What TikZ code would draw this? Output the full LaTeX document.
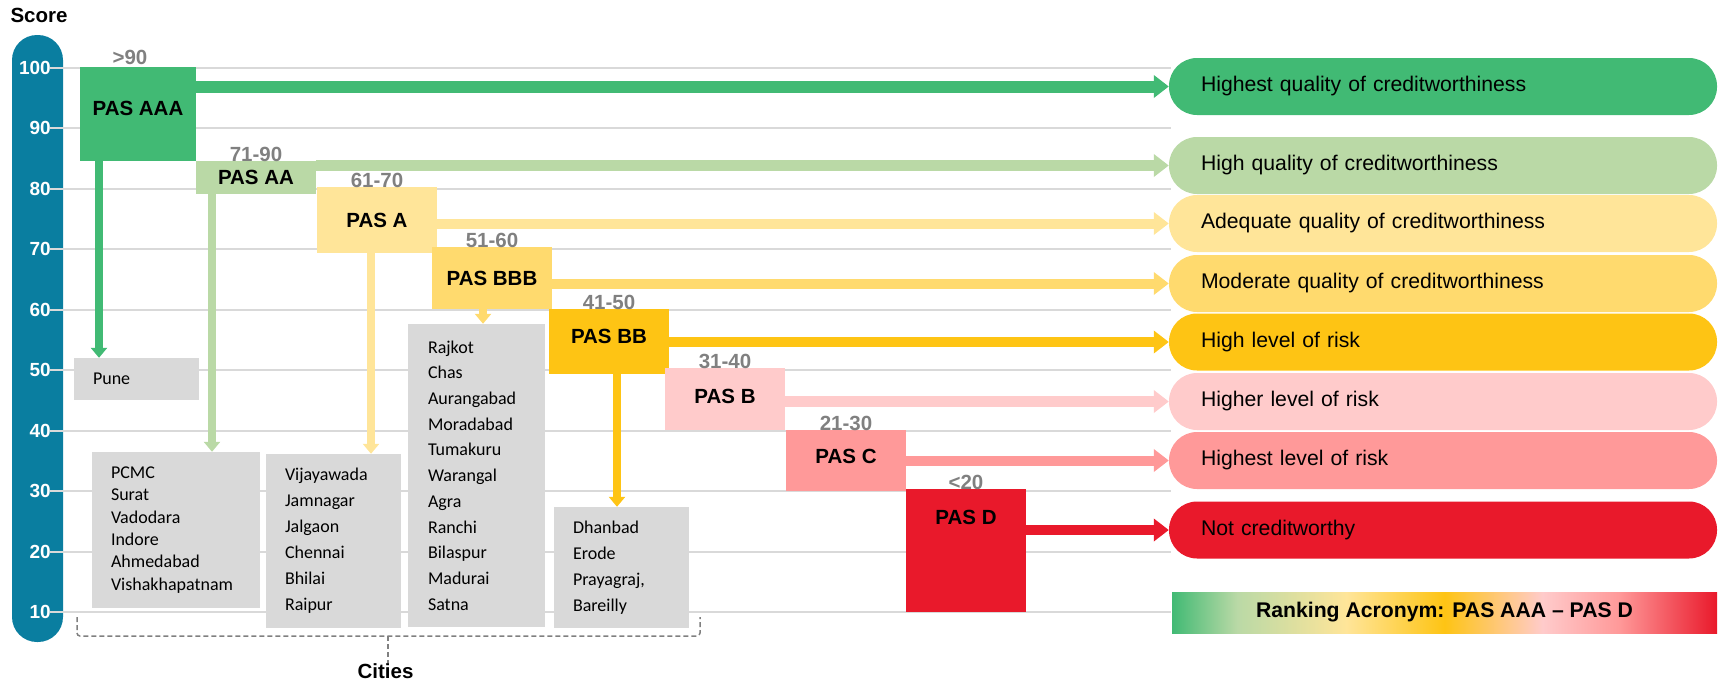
\documentclass[tikz,border=0pt]{standalone}
\usepackage{fontspec}
\setmainfont{Liberation Sans}
\newfontfamily\cityfont{Carlito}
\usetikzlibrary{positioning,arrows.meta}
\definecolor{axisblue}{RGB}{10,126,160}
\definecolor{pasAAA}{RGB}{65,186,116}
\definecolor{pasAA}{RGB}{186,217,166}
\definecolor{pasA}{RGB}{255,229,153}
\definecolor{pasBBB}{RGB}{255,218,110}
\definecolor{pasBB}{RGB}{254,196,20}
\definecolor{pasB}{RGB}{255,203,203}
\definecolor{pasC}{RGB}{255,153,153}
\definecolor{pasD}{RGB}{233,25,43}
\definecolor{citygray}{RGB}{217,217,217}
\definecolor{gridgray}{RGB}{217,217,217}
\definecolor{rangegray}{RGB}{128,128,128}
\pgfdeclarehorizontalshading{rankbar}{100bp}{color(0bp)=(pasAAA); color(25bp)=(pasAAA); color(31bp)=(pasAA); color(41bp)=(pasA); color(50bp)=(pasBB); color(59bp)=(pasB); color(66bp)=(pasC); color(75bp)=(pasD); color(100bp)=(pasD)}

\begin{document}
\begin{tikzpicture}[x=1pt,y=-1pt, every node/.style={inner sep=0pt},
 rate/.style={rectangle,minimum width=120pt,font=\fontsize{20.5}{24}\selectfont\bfseries},
 rng/.style={font=\fontsize{20.5}{24}\selectfont\bfseries,text=rangegray},
 city/.style={fill=citygray,align=left,font=\cityfont\fontsize{18}{26}\selectfont},
 pill/.style={rounded corners=28pt,minimum width=548pt,minimum height=57pt,text width=484pt,align=left,font=\fontsize{21.2}{25}\selectfont},
 tk/.style={text=white,font=\fontsize{19}{22}\selectfont\bfseries,anchor=east},
 hbar/.style={-{Triangle[width=22pt,length=15pt]}},
 vdrop/.style={line width=8.5pt,-{Triangle[width=16pt,length=10pt]}},
 cbrace/.style={draw=rangegray,line width=1.5pt,dash pattern=on 5pt off 3pt,rounded corners=3pt},
 lab/.style={font=\fontsize{20.5}{24}\selectfont\bfseries}]
\useasboundingbox (0,0) rectangle (1720,680);
\fill[axisblue,rounded corners=25pt] (12,35) rectangle (63,642);
\foreach \v in {100,90,...,10}{
 \draw[gridgray,line width=2pt] (50,{68+(100-\v)*6.044}) -- (1171,{68+(100-\v)*6.044});
 \node[tk] (tick-\v) at (51,{68+(100-\v)*6.044}) {\v};
}
\node[lab] (score) at (39,15) {Score};
\node[city,minimum width=125pt,minimum height=42pt,text width=87pt] (pune) at (136.5,379) {Pune};
\node[city,minimum width=168pt,minimum height=156pt,text width=130pt,font=\cityfont\fontsize{18}{22.4}\selectfont] (c-aa) at (176,530) {PCMC\\Surat\\Vadodara\\Indore\\Ahmedabad\\Vishakhapatnam};
\node[city,minimum width=135pt,minimum height=174pt,text width=97pt] (c-a) at (333.5,541) {Vijayawada\\Jamnagar\\Jalgaon\\Chennai\\Bhilai\\Raipur};
\node[city,minimum width=137pt,minimum height=303pt,text width=97pt,font=\cityfont\fontsize{18}{25.7}\selectfont] (c-bbb) at (476.5,475.5) {Rajkot\\Chas\\Aurangabad\\Moradabad\\Tumakuru\\Warangal\\Agra\\Ranchi\\Bilaspur\\Madurai\\Satna};
\node[city,minimum width=135pt,minimum height=121pt,text width=97pt] (c-bb) at (621.5,567.5) {Dhanbad\\Erode\\Prayagraj,\\Bareilly};
\node[rate,fill=pasAAA,minimum width=116pt,minimum height=94pt,text depth=12pt] (AAA) at (138,114) {PAS AAA};
\node[rate,fill=pasAA,minimum height=33pt] (AA) at (256,177.5) {PAS AA};
\node[rate,fill=pasA,minimum height=66pt] (A) at (377,220) {PAS A};
\node[rate,fill=pasBBB,minimum height=62pt] (BBB) at (492,278) {PAS BBB};
\node[rate,fill=pasBB,minimum height=65pt,text depth=11pt] (BB) at (609,341.5) {PAS BB};
\node[rate,fill=pasB,minimum height=62pt,text depth=6pt] (B) at (725,399) {PAS B};
\node[rate,fill=pasC,minimum height=61pt,text depth=9pt] (C) at (846,460.5) {PAS C};
\node[rate,fill=pasD,minimum height=123pt,text depth=67pt] (D) at (966,550.5) {PAS D};
\node[rng,above=1.5pt of AAA,xshift=-8pt] (r-AAA) {>90};
\foreach \r/\t in {AA/71-90,A/61-70,BBB/51-60,BB/41-50,B/31-40,C/21-30,D/<20}
 \node[rng,above=-1pt of \r] (r-\r) {\t};
\foreach \n/\k/\yy/\txt in {1/pasAAA/86.5/Highest quality of creditworthiness,2/pasAA/165.5/High quality of creditworthiness,3/pasA/223.5/Adequate quality of creditworthiness,4/pasBBB/283.5/Moderate quality of creditworthiness,5/pasBB/342/High level of risk,6/pasB/401.5/Higher level of risk,7/pasC/460.5/Highest level of risk,8/pasD/530/Not creditworthy}
 \node[pill,fill=\k] (P\n) at (1443,\yy) {\txt};
\foreach \r/\p/\k/\w in {AAA/1/pasAAA/12,AA/2/pasAA/10.5,A/3/pasA/10,BBB/4/pasBBB/10,BB/5/pasBB/10,B/6/pasB/10.5,C/7/pasC/10,D/8/pasD/10}
 \draw[hbar,\k,line width=\w pt] (\r.east |- P\p.west) -- (P\p.west);
\foreach \r/\c/\xx/\k in {AAA/pune/99/pasAAA,AA/c-aa/212/pasAA,A/c-a/371/pasA,BBB/c-bbb/483/pasBBB,BB/c-bb/617/pasBB}
 \draw[vdrop,\k] (\r.south -| \xx,0) -- (\c.north -| \xx,0);
\node[lab,shade,shading=rankbar,minimum width=545pt,minimum height=41pt,font=\fontsize{21.2}{25}\selectfont\bfseries] (rankbar) at (1444.5,612.5) {Ranking Acronym: PAS AAA \textendash\ PAS D};
\coordinate (brL) at (77,617); \coordinate (brM) at (388,636); \coordinate (brR) at (700,617);
\node[lab] (cities) at (385.5,671) {Cities};
\draw[cbrace] (brL) |- (brM) -| (brR);
\draw[cbrace] (brM) -- (brM |- cities.north);
\end{tikzpicture}
\end{document}
